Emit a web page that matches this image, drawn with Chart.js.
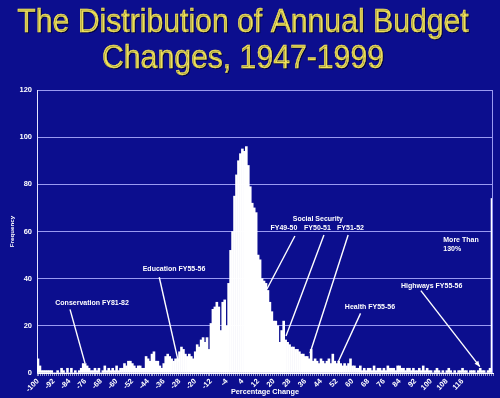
<!DOCTYPE html>
<html><head><meta charset="utf-8">
<script src="https://cdn.jsdelivr.net/npm/chart.js@4"></script>
<style>html,body{margin:0;padding:0;background:#0c0e8e;}#wrap{width:500px;height:398px;}</style>
</head><body><div id="wrap"><canvas id="c" width="500" height="398"></canvas></div>
<script>
// ---- data ----
const titleLines = ['The Distribution of Annual Budget', 'Changes, 1947-1999'];
const xTitle = 'Percentage Change';
const yTitle = 'Frequency';

// categories: percentage change -100 .. 130, then the overflow bin
const categories = [];
for (let v = -100; v <= 130; v++) categories.push(String(v));
categories.push('More');

const frequencies = [
  6,3,1,1,1,1,1,1,0,0,        // -100..-91
  1,0,2,1,0,2,0,2,0,1,        // -90..-81
  0,1,2,4,4,3,2,1,1,2,        // -80..-71
  1,2,0,1,3,1,2,1,2,1,        // -70..-61
  3,1,2,2,4,3,5,5,4,3,        // -60..-51
  2,3,3,2,2,7,6,5,8,9,        // -50..-41
  5,5,3,2,4,7,8,7,6,5,        // -40..-31
  6,6,9,11,10,8,7,8,7,6,      // -30..-21
  9,12,11,14,15,13,15,10,21,27, // -20..-11
  28,30,28,18,30,31,20,38,52,60, // -10..-1
  75,84,90,93,95,94,96,88,79,72, // 0..9
  70,68,50,48,40,39,38,35,30,26, // 10..19
  22,22,20,13,18,22,14,13,12,11, // 20..29
  11,10,10,9,8,8,7,7,6,10,    // 30..39
  5,6,5,4,6,5,4,5,6,4,        // 40..49
  8,5,4,5,4,3,4,3,4,6,        // 50..59
  3,3,2,2,3,1,2,1,2,2,        // 60..69
  1,3,1,2,2,1,2,1,3,2,        // 70..79
  2,2,1,3,3,2,2,1,2,2,        // 80..89
  1,2,1,1,2,1,3,1,2,1,        // 90..99
  1,0,1,2,1,0,1,0,1,2,        // 100..109
  1,0,1,0,1,1,2,1,1,0,        // 110..119
  1,1,1,0,1,2,1,1,0,1,        // 120..129
  2,                          // 130
  74                          // More than 130%
];

const xTickLabels = ['-100','-92','-84','-76','-68','-60','-52','-44','-36','-28','-20','-12','-4',
  '4','12','20','28','36','44','52','60','68','76','84','92','100','108','116'];
const yTickValues = [0,20,40,60,80,100,120];

// annotations in data units (percentage change, frequency)
const annotationLabels = [
  {text:'Conservation FY81-82', pct:-72.5, freq:29.8, align:'center'},
  {text:'Education FY55-56',    pct:-30.8, freq:44.1, align:'center'},
  {text:'Social Security',      pct:42.4,  freq:65.3, align:'center'},
  {text:'FY49-50',              pct:25.1,  freq:61.5, align:'center'},
  {text:'FY50-51',              pct:42.2,  freq:61.5, align:'center'},
  {text:'FY51-52',              pct:59.0,  freq:61.5, align:'center'},
  {text:'Health FY55-56',       pct:68.9,  freq:28.1, align:'center'},
  {text:'Highways FY55-56',     pct:100.3, freq:37.0, align:'center'},
  {text:'More Than',            pct:106.2, freq:56.4, align:'left'},
  {text:'130%',                 pct:106.2, freq:52.5, align:'left'}
];
const annotationArrows = [
  {from:[-83.7,27.0], to:[-76.1,4.2], head:false},
  {from:[-38.3,40.6], to:[-28.6,4.8], head:false},
  {from:[30.7,58.1],  to:[16.5,35.6], head:false},
  {from:[45.5,58.5],  to:[26.2,15.7], head:false},
  {from:[57.8,58.5],  to:[38.4,8.4],  head:false},
  {from:[64.1,25.3],  to:[52.8,4.8],  head:false},
  {from:[94.8,34.9],  to:[124.8,2.7], head:true}
];

// ---- style ----
const BG = '#0c0e8e';
const GRID = '#9a9af2';
const TITLE_COLOR = '#efe15a';
const FONT = '"Liberation Sans", Arial, sans-serif';

const bgPlugin = {
  id: 'bg',
  beforeDraw(chart) {
    const ctx = chart.ctx;
    ctx.save();
    ctx.fillStyle = BG;
    ctx.fillRect(0, 0, chart.width, chart.height);
    // slide title
    ctx.fillStyle = TITLE_COLOR;
    ctx.strokeStyle = TITLE_COLOR;
    ctx.lineWidth = 0.4;
    ctx.textAlign = 'center';
    ctx.textBaseline = 'alphabetic';
    ctx.font = '30.2px ' + FONT;
    ctx.shadowColor = 'rgba(0,0,0,0.55)';
    ctx.shadowOffsetX = 1; ctx.shadowOffsetY = 1;
    const baselines = [31.5, 68.3];
    titleLines.forEach((t, i) => {
      ctx.save();
      ctx.translate(243, baselines[i]);
      ctx.scale(1, 1.13);
      ctx.fillText(t, 0, 0);
      ctx.strokeText(t, 0, 0);
      ctx.restore();
    });
    ctx.restore();
  }
};

const annotPlugin = {
  id: 'annot',
  afterDatasetsDraw(chart) {
    const ctx = chart.ctx, xs = chart.scales.x, ys = chart.scales.y, a = chart.chartArea;
    const px = p => xs.getPixelForValue(p + 100);
    const py = f => ys.getPixelForValue(f);
    ctx.save();
    // right border of plot
    ctx.strokeStyle = GRID; ctx.lineWidth = 1;
    ctx.beginPath(); ctx.moveTo(a.right - 0.5, a.top); ctx.lineTo(a.right - 0.5, a.bottom); ctx.stroke();
    ctx.strokeStyle = '#ffffff'; ctx.fillStyle = '#ffffff'; ctx.lineWidth = 1.4;
    annotationArrows.forEach(ar => {
      const x1 = px(ar.from[0]), y1 = py(ar.from[1]), x2 = px(ar.to[0]), y2 = py(ar.to[1]);
      ctx.beginPath(); ctx.moveTo(x1, y1); ctx.lineTo(x2, y2); ctx.stroke();
      if (ar.head) {
        const ang = Math.atan2(y2 - y1, x2 - x1), L = 6;
        ctx.beginPath();
        ctx.moveTo(x2, y2);
        ctx.lineTo(x2 - L * Math.cos(ang - 0.4), y2 - L * Math.sin(ang - 0.4));
        ctx.lineTo(x2 - L * Math.cos(ang + 0.4), y2 - L * Math.sin(ang + 0.4));
        ctx.closePath(); ctx.fill();
      }
    });
    ctx.font = 'bold 7px ' + FONT;
    ctx.textBaseline = 'middle';
    annotationLabels.forEach(l => {
      ctx.textAlign = l.align;
      ctx.fillText(l.text, px(l.pct), py(l.freq));
    });
    ctx.restore();
  }
};

new Chart(document.getElementById('c'), {
  type: 'bar',
  data: {
    labels: categories,
    datasets: [{
      data: frequencies,
      backgroundColor: '#ffffff',
      borderWidth: 0,
      barPercentage: 1,
      categoryPercentage: 1
    }]
  },
  options: {
    responsive: false,
    animation: false,
    devicePixelRatio: 1,
    layout: { padding: { top: 90, right: 7, left: 0, bottom: 0 } },
    plugins: { legend: { display: false }, tooltip: { enabled: false }, title: { display: false } },
    scales: {
      x: {
        afterFit(s) { s.height = 25; },
        grid: { display: true, drawOnChartArea: false, drawTicks: true, tickLength: 3, color: 'rgba(255,255,255,0.55)' },
        border: { display: true, color: '#ffffff', width: 1 },
        ticks: {
          autoSkip: false, maxRotation: 45, minRotation: 45, padding: 1,
          color: '#ffffff',
          font: { family: FONT, size: 7.5, weight: 'bold' },
          callback(value, index) { const l = categories[index]; return xTickLabels.includes(l) ? l : ''; }
        },
        title: { display: true, text: xTitle, color: '#ffffff', font: { family: FONT, size: 7.3, weight: 'bold' }, padding: { top: 0, bottom: 2 } }
      },
      y: {
        min: 0, max: 120,
        afterFit(s) { s.width = 37; },
        afterBuildTicks(s) { s.ticks = yTickValues.map(v => ({ value: v })); },
        grid: { color: GRID, lineWidth: 1, drawTicks: false },
        border: { display: true, color: '#e6e6ff', width: 1 },
        ticks: { color: '#ffffff', padding: 5, font: { family: FONT, size: 7.5, weight: 'bold' } },
        title: { display: true, text: yTitle, color: '#ffffff', font: { family: FONT, size: 6.2, weight: 'bold' }, padding: { top: 9, bottom: 0 } }
      }
    }
  },
  plugins: [bgPlugin, annotPlugin]
});
</script>
</body></html>
